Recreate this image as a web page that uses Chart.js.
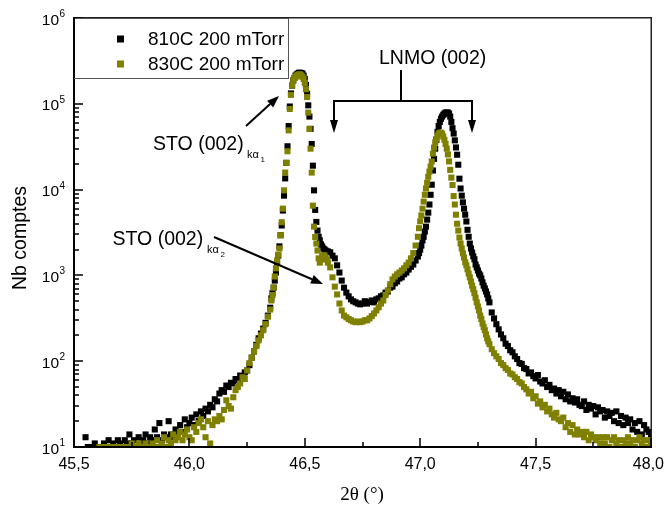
<!DOCTYPE html>
<html>
<head>
<meta charset="utf-8">
<script src="https://cdn.jsdelivr.net/npm/chart.js@4.4.1/dist/chart.umd.min.js"></script>
<style>
html,body{margin:0;padding:0;background:#fff;}
#wrap{width:665px;height:512px;position:relative;}
canvas{display:block;}
</style>
</head>
<body>
<div id="wrap"><canvas id="c" width="665" height="512"></canvas></div>
<script>
// ---- scan angles 2θ (°) ----
const angles = [
// 45.55 - 46.35
45.55,45.56,45.57,45.58,45.59,45.60,45.61,45.62,45.63,45.64,
45.65,45.66,45.67,45.68,45.69,45.70,45.71,45.72,45.73,45.74,
45.75,45.76,45.77,45.78,45.79,45.80,45.81,45.82,45.83,45.84,
45.85,45.86,45.87,45.88,45.89,45.90,45.91,45.92,45.93,45.94,
45.95,45.96,45.97,45.98,45.99,46.00,46.01,46.02,46.03,46.04,
46.05,46.06,46.07,46.08,46.09,46.10,46.11,46.12,46.13,46.14,
46.15,46.16,46.17,46.18,46.19,46.20,46.21,46.22,46.23,46.24,
46.25,46.26,46.27,46.28,46.29,46.30,46.31,46.32,46.33,46.34,
46.35,
// 46.355 - 46.60
46.355,46.36,46.365,46.37,46.375,46.38,46.385,46.39,46.395,46.40,
46.405,46.41,46.415,46.42,46.425,46.43,46.435,46.44,46.445,46.45,
46.455,46.46,46.465,46.47,46.475,46.48,46.485,46.49,46.495,46.50,
46.505,46.51,46.515,46.52,46.525,46.53,46.535,46.54,46.545,46.55,
46.555,46.56,46.565,46.57,46.575,46.58,46.585,46.59,46.595,46.60,
// 46.61 - 46.99
46.61,46.62,46.63,46.64,46.65,46.66,46.67,46.68,46.69,46.70,
46.71,46.72,46.73,46.74,46.75,46.76,46.77,46.78,46.79,46.80,
46.81,46.82,46.83,46.84,46.85,46.86,46.87,46.88,46.89,46.90,
46.91,46.92,46.93,46.94,46.95,46.96,46.97,46.98,46.99,
// 46.995 - 47.30
46.995,47.000,47.005,47.010,47.015,47.020,47.025,47.030,47.035,47.040,
47.045,47.050,47.055,47.060,47.065,47.070,47.075,47.080,47.085,47.090,
47.095,47.100,47.105,47.110,47.115,47.120,47.125,47.130,47.135,47.140,
47.145,47.150,47.155,47.160,47.165,47.170,47.175,47.180,47.185,47.190,
47.195,47.200,47.205,47.210,47.215,47.220,47.225,47.230,47.235,47.240,
47.245,47.250,47.255,47.260,47.265,47.270,47.275,47.280,47.285,47.290,
47.295,47.300,
// 47.31 - 48.00
47.31,47.32,47.33,47.34,47.35,47.36,47.37,47.38,47.39,47.40,
47.41,47.42,47.43,47.44,47.45,47.46,47.47,47.48,47.49,47.50,
47.51,47.52,47.53,47.54,47.55,47.56,47.57,47.58,47.59,47.60,
47.61,47.62,47.63,47.64,47.65,47.66,47.67,47.68,47.69,47.70,
47.71,47.72,47.73,47.74,47.75,47.76,47.77,47.78,47.79,47.80,
47.81,47.82,47.83,47.84,47.85,47.86,47.87,47.88,47.89,47.90,
47.91,47.92,47.93,47.94,47.95,47.96,47.97,47.98,47.99,48.00
];

// ---- counts, 810C 200 mTorr ----
const counts810 = [
13,10,9,10,11,10,9,10,11,10,
12,10,11,10,12,11,10,12,11,14,
11,12,10,13,11,12,14,11,13,12,
16,13,19,12,14,13,20,14,13,16,
15,18,15,21,17,19,22,18,24,20,
26,23,28,26,31,29,36,34,42,46,
44,52,50,56,55,62,60,68,66,74,
78,90,110,130,155,185,210,240,280,340,
420,
540,620,720,870,1080,1410,1700,2180,2940,3820,
5700,8500,13500,20500,32000,55000,93000,132000,163000,187000,
200000,213000,220000,225000,230000,230000,228000,225000,213000,195000,
166000,131000,96000,71000,51000,34000,19000,9800,5800,4200,
3330,2820,2560,2300,2180,2060,2010,1950,1900,1900,
1860,1700,1580,1310,1080,870,720,630,570,525,
500,485,470,460,470,500,470,490,510,485,
525,540,570,585,630,650,720,740,810,850,
920,950,1030,1080,1170,1260,1340,1490,1660,
1820,2000,2230,2560,2820,3240,3700,4470,5390,6700,
8700,11400,16700,22800,30000,38000,47000,55000,61500,67000,
71000,74500,77000,79000,79000,79000,77000,71000,61500,52000,
45000,37500,31000,25500,19500,13400,10300,8500,7100,6000,
5100,4250,3400,2820,2350,2060,1850,1670,1540,1340,
1240,1140,1050,1000,920,830,760,705,650,600,
540,485,
370,315,270,235,205,185,160,150,134,127,
114,106,95,93,83,81,72,74,67,63,
69,58,55,60,50,53,46,48,42,46,
39,44,36,41,34,37,33,36,31,30,
34,27,31,28,30,24,29,26,27,22,
26,23,25,20,26,19,23,18,22,19,
21,16,19,15,20,14,18,16,15,13
];

// ---- counts, 830C 200 mTorr ----
const counts830 = [
8,9,8,9,8,9,10,9,10,8,
10,9,10,9,10,9,10,10,9,10,
11,9,10,11,10,10,11,10,9,11,
10,12,10,11,13,10,12,11,14,12,
13,15,12,14,16,13,12,17,15,19,
21,17,13,20,11,18,21,20,23,21,
27,35,30,28,38,46,50,55,65,62,
78,95,110,130,150,175,200,230,270,330,
400,
510,590,720,970,1210,1490,1740,2060,2940,4170,
6000,9800,15800,20500,28000,49000,87000,127000,163000,187000,
200000,206000,213000,216000,220000,220000,213000,206000,195000,175000,
148000,120000,79000,51000,30000,15800,6500,3700,2800,2350,
1950,1580,1410,1530,1670,1710,1710,1620,1530,1410,
1240,950,740,600,470,390,340,325,310,300,
290,285,290,285,290,300,300,315,335,360,
390,425,470,510,590,670,790,900,970,1030,
1080,1140,1210,1310,1410,1580,1820,2230,2820,
3550,4270,5000,6000,7250,8700,10300,12000,14100,16200,
18500,21300,26300,30900,35500,39000,42500,44700,46000,46000,
44700,41500,38000,34000,30000,25700,21300,17000,13800,11300,
8400,6700,5100,4000,3330,2760,2350,2060,1810,1620,
1420,1310,1180,1050,950,850,760,690,620,550,
485,435,390,340,310,275,250,230,205,185,
170,158,
138,124,114,106,95,90,83,79,72,70,
65,62,57,55,50,47,42,44,37,39,
32,34,29,31,26,28,24,22,25,21,
20,22,17,19,15,18,14,16,14,15,
13,15,12,14,13,12,13,11,13,11,
13,10,12,13,11,12,10,12,11,13,
11,12,10,12,13,11,12,10,12,11
];

const seriesNames = ['810C 200 mTorr', '830C 200 mTorr'];
const seriesColors = ['#000000', '#808000'];
const xMajorTicks = [45.5, 46.0, 46.5, 47.0, 47.5, 48.0];
const xMinorTicks = [45.75, 46.25, 46.75, 47.25, 47.75];
const yDecadeExponents = [1, 2, 3, 4, 5, 6];
const yMinorMantissas = [2, 3, 4, 5, 6, 7, 8, 9];

const SANS = '"Liberation Sans", Arial, sans-serif';
const SERIF = '"Liberation Serif", "Times New Roman", serif';

function arrow(ctx, x1, y1, x2, y2, head, half) {
  const a = Math.atan2(y2 - y1, x2 - x1);
  const bx = x2 - head * Math.cos(a), by = y2 - head * Math.sin(a);
  ctx.beginPath(); ctx.moveTo(x1, y1); ctx.lineTo(bx, by); ctx.stroke();
  ctx.beginPath();
  ctx.moveTo(x2, y2);
  ctx.lineTo(bx + half * Math.sin(a), by - half * Math.cos(a));
  ctx.lineTo(bx - half * Math.sin(a), by + half * Math.cos(a));
  ctx.closePath(); ctx.fill();
}

const decor = {
  id: 'decor',
  afterDraw(chart) {
    const ctx = chart.ctx;
    const xs = chart.scales.x, ys = chart.scales.y;
    const a = chart.chartArea;
    const L = Math.round(a.left), R = Math.round(a.right), T = Math.round(a.top), B = Math.round(a.bottom);
    ctx.save();
    ctx.fillStyle = '#000'; ctx.strokeStyle = '#000';

    // frame: top/right thin, left/bottom axes solid
    ctx.fillStyle = '#222';
    ctx.fillRect(L, T - 1, R - L + 1, 1.5);
    ctx.fillRect(R - 0.5, T - 1, 1.5, B - T + 1);
    ctx.fillStyle = '#000';
    ctx.fillRect(L - 1, T - 1, 2, B - T + 2);
    ctx.fillRect(L - 1, B - 1, R - L + 2, 2);

    // x ticks (inward)
    xMajorTicks.forEach(v => {
      const px = Math.round(xs.getPixelForValue(v));
      ctx.fillRect(px - 0.75, B - 9, 1.5, 9);
    });
    xMinorTicks.forEach(v => {
      const px = Math.round(xs.getPixelForValue(v));
      ctx.fillRect(px - 0.75, B - 5, 1.5, 5);
    });
    // y ticks (inward)
    yDecadeExponents.forEach(e => {
      const py = Math.round(ys.getPixelForValue(Math.pow(10, e)));
      ctx.fillRect(L, py - 0.75, 9, 1.5);
      if (e < 6) {
        yMinorMantissas.forEach(m => {
          const q = Math.round(ys.getPixelForValue(m * Math.pow(10, e)));
          ctx.fillRect(L, q - 0.75, 5, 1.5);
        });
      }
    });

    // x tick labels
    ctx.font = '16px ' + SANS;
    ctx.textAlign = 'center'; ctx.textBaseline = 'alphabetic';
    xMajorTicks.forEach(v => {
      let px = xs.getPixelForValue(v);
      const t = v.toFixed(1).replace('.', ',');
      const w = ctx.measureText(t).width;
      if (px + w / 2 > 664) px = 664 - w / 2;
      ctx.fillText(t, px, B + 22);
    });
    // y tick labels 10^n
    yDecadeExponents.forEach(e => {
      const py = ys.getPixelForValue(Math.pow(10, e));
      ctx.font = '15.5px ' + SANS; ctx.textAlign = 'right';
      ctx.fillText('10', 59, py + 6.5);
      ctx.font = '10px ' + SANS; ctx.textAlign = 'left';
      ctx.fillText(String(e), 59.5, py - 1);
    });

    // axis titles
    ctx.font = '19px ' + SERIF; ctx.textAlign = 'center';
    ctx.fillText('2\u03B8 (\u00B0)', 362, 500);
    ctx.save();
    ctx.translate(21, 238); ctx.rotate(-Math.PI / 2);
    ctx.font = '19.5px ' + SANS; ctx.textBaseline = 'middle';
    ctx.fillText('Nb comptes', 0, 0);
    ctx.restore();

    // legend
    ctx.fillStyle = '#fff';
    ctx.fillRect(L + 1, T + 1, 288 - L - 1, 78 - T - 1);
    ctx.strokeStyle = '#555'; ctx.lineWidth = 1;
    ctx.strokeRect(L + 0.5, T + 0.5, 288 - L, 78 - T);
    ctx.fillStyle = '#000';
    ctx.fillRect(L - 1, T - 1, 2, 78 - T + 1);
    ctx.font = '19px ' + SANS; ctx.textAlign = 'left'; ctx.textBaseline = 'alphabetic';
    seriesNames.forEach((n, i) => {
      const cy = 39 + i * 25;
      ctx.fillStyle = seriesColors[i];
      ctx.fillRect(117, cy - 3.5, 7, 7);
      ctx.fillStyle = '#000';
      ctx.fillText(n, 148, cy + 5.5);
    });

    // annotations
    ctx.fillStyle = '#000'; ctx.strokeStyle = '#000';
    ctx.font = '19.5px ' + SANS;
    ctx.fillText('LNMO (002)', 379, 63.5);
    ctx.fillText('STO (002)', 153, 150);
    ctx.fillText('STO (002)', 112.5, 245);
    ctx.font = '11px ' + SANS;
    ctx.fillText('k\u03B1', 247, 157.5);
    ctx.fillText('k\u03B1', 207, 252.5);
    ctx.font = '8px ' + SANS;
    ctx.fillText('1', 260.5, 161.5);
    ctx.fillText('2', 220.5, 256.5);

    // bracket
    ctx.lineWidth = 2;
    ctx.beginPath();
    ctx.moveTo(401, 70); ctx.lineTo(401, 101);
    ctx.moveTo(333, 101); ctx.lineTo(473, 101);
    ctx.stroke();
    arrow(ctx, 334, 100, 334, 133, 13, 4);
    arrow(ctx, 472, 100, 472, 133, 13, 4);
    // arrows to STO peaks
    arrow(ctx, 246, 126, 279, 96, 12, 4.5);
    arrow(ctx, 214, 237, 323, 284, 12, 4.5);

    ctx.restore();
  }
};

function toPoints(vals) { return angles.map((a, i) => ({ x: a, y: vals[i] })); }

new Chart(document.getElementById('c'), {
  type: 'scatter',
  data: {
    datasets: [
      { label: seriesNames[0], data: toPoints(counts810), backgroundColor: seriesColors[0],
        borderWidth: 0, pointStyle: 'rect', pointRadius: 4.3, order: 2, clip: 0 },
      { label: seriesNames[1], data: toPoints(counts830), backgroundColor: seriesColors[1],
        borderWidth: 0, pointStyle: 'rect', pointRadius: 4.3, order: 1, clip: 0 }
    ]
  },
  options: {
    responsive: false, animation: false, events: [],
    layout: { padding: { top: 18, right: 14, left: 0, bottom: 0 } },
    plugins: { legend: { display: false }, tooltip: { enabled: false } },
    scales: {
      x: { type: 'linear', min: 45.5, max: 48.0,
           grid: { display: false }, border: { display: false }, ticks: { display: false },
           afterFit(s) { s.height = 65; } },
      y: { type: 'logarithmic', min: 10, max: 1e6,
           grid: { display: false }, border: { display: false }, ticks: { display: false },
           afterFit(s) { s.width = 74; } }
    }
  },
  plugins: [decor]
});
</script>
</body>
</html>
